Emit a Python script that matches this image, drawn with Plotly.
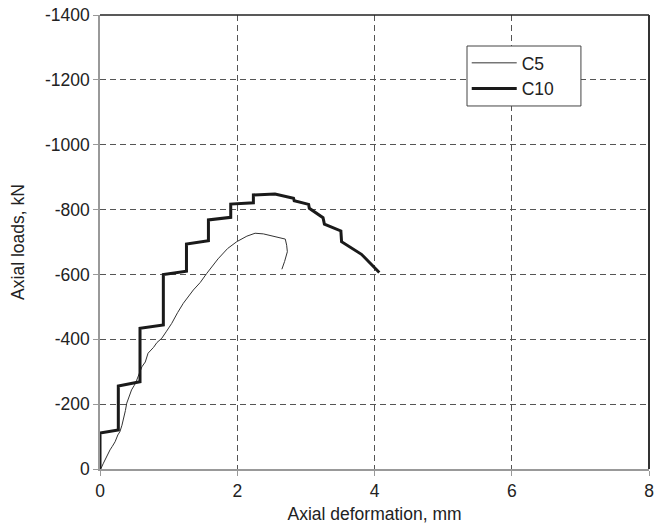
import plotly.graph_objects as go

# Axial deformation (mm) and axial load (kN, compression negative)
c5_def = [0.0, 0.015, 0.05, 0.073, 0.11, 0.146, 0.18, 0.22, 0.26, 0.29, 0.32,
          0.34, 0.37, 0.39, 0.43, 0.46, 0.50, 0.535, 0.61, 0.66, 0.70, 0.78,
          0.83, 0.90, 0.97, 1.045, 1.13, 1.214, 1.36, 1.46, 1.555, 1.64, 1.72,
          1.86, 1.993, 2.14, 2.26, 2.38, 2.50, 2.62, 2.70, 2.72, 2.73, 2.69, 2.65]
c5_load = [0, -2, -18, -28, -45, -59, -70, -84, -105, -115, -135,
           -151, -180, -203, -225, -244, -258, -274, -315, -330, -357, -375,
           -390, -403, -425, -449, -482, -511, -552, -575, -603, -628, -648,
           -680, -701, -718, -727, -725, -719, -714, -709, -690, -670, -640, -616]

c10_def = [0.0, 0.0, 0.267, 0.267, 0.583, 0.583, 0.923, 0.923, 1.26, 1.26,
           1.58, 1.58, 1.905, 1.905, 2.235, 2.235, 2.55, 2.82, 2.83, 3.04,
           3.05, 3.25, 3.27, 3.51, 3.52, 3.81, 4.07]
c10_load = [0, -111, -120, -256, -269, -434, -444, -600, -610, -694,
            -704, -768, -776, -817, -821, -845, -848, -835, -827, -816,
            -804, -775, -755, -734, -701, -662, -606]

x_ticks = [0, 2, 4, 6, 8]
y_ticks = [0, -200, -400, -600, -800, -1000, -1200, -1400]

FS = 17.5

fig = go.Figure()
fig.add_trace(go.Scatter(x=c5_def, y=c5_load, mode="lines", name="C5",
                         legendgroup="c5",
                         line=dict(color="#333333", width=1)))
fig.add_trace(go.Scatter(x=c10_def, y=c10_load, mode="lines", name="C10",
                         legendgroup="c10",
                         line=dict(color="#1a1a1a", width=3)))

grid = dict(showgrid=True, gridcolor="#555555", griddash="6px,4px", gridwidth=1)
axis_common = dict(ticks="outside", ticklen=5, tickcolor="#999999",
                   showline=True, linecolor="#999999", linewidth=1.5,
                   zeroline=False, automargin=False, tickfont=dict(size=FS), **grid)
fig.update_xaxes(range=[0, 8], tickvals=x_ticks, ticktext=[str(v) for v in x_ticks],
                 title=dict(text="Axial deformation, mm", font=dict(size=FS), standoff=8),
                 **axis_common)
fig.update_yaxes(range=[0, -1400], tickvals=y_ticks, ticktext=[str(v) for v in y_ticks],
                 title=dict(text="Axial loads, kN", font=dict(size=FS), standoff=16),
                 **axis_common)

# Dark frame on the top and right sides
fig.add_shape(type="line", xref="paper", yref="paper", x0=0, x1=1, y0=1, y1=1,
              line=dict(color="#222222", width=1.5))
fig.add_shape(type="line", xref="paper", yref="paper", x0=1, x1=1, y0=0, y1=1,
              line=dict(color="#333333", width=2))
# Legend frame (white box covering the grid behind the legend)
fig.add_shape(type="rect", xref="paper", yref="paper", layer="above",
              x0=0.6685, x1=0.876, y0=0.7996, y1=0.9317,
              fillcolor="white", line=dict(color="#444444", width=1))

fig.update_layout(
    width=667, height=524,
    margin=dict(l=100, r=18, t=15, b=55),
    paper_bgcolor="white", plot_bgcolor="white",
    font=dict(family="Liberation Sans, Arial, sans-serif", color="#222222", size=FS),
    legend=dict(x=0.668, y=0.934, xanchor="left", yanchor="top",
                bgcolor="rgba(0,0,0,0)", borderwidth=0,
                font=dict(size=FS), tracegroupgap=0, itemwidth=45),
    showlegend=True,
)

fig.write_html("out.html")
